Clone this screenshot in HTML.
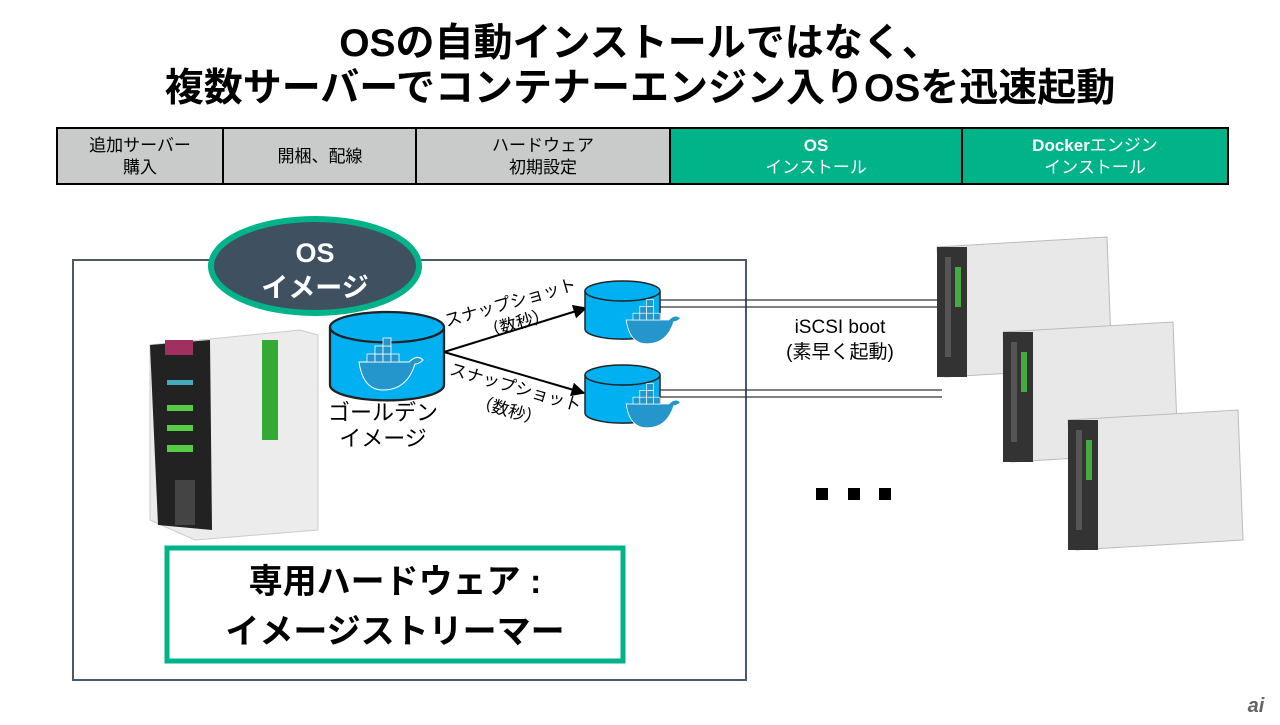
<!DOCTYPE html>
<html><head><meta charset="utf-8"><style>
body{margin:0;width:1280px;height:720px;background:#fff;overflow:hidden;font-family:"Liberation Sans","Noto Sans CJK JP",sans-serif}
svg text{font-family:"Liberation Sans","Noto Sans CJK JP",sans-serif}
</style></head><body>
<svg width="1280" height="720" viewBox="0 0 1280 720" xmlns="http://www.w3.org/2000/svg">
<defs><marker id="a" viewBox="0 0 10 10" refX="9" refY="5" markerWidth="7" markerHeight="7" orient="auto"><path d="M0,0L10,5L0,10z" fill="#000"/></marker>
<g id="cyl"><path d="M0,10 v38 a37,10 0 0 0 75,0 v-38" fill="#00b0f0" stroke="#222" stroke-width="1.5"/><ellipse cx="37.5" cy="10" rx="37.5" ry="10" fill="#00b0f0" stroke="#222" stroke-width="1.5"/></g>
<g id="whale"><path d="M-28,0 h50 q8,-8 14,-2 q-4,4 -8,4 q-8,26 -32,26 q-20,0 -24,-28z" fill="#2496cc" stroke="#fff" stroke-width="1"/><g fill="#2496cc" stroke="#fff" stroke-width="0.8"><rect x="-20" y="-8" width="8" height="8"/><rect x="-12" y="-8" width="8" height="8"/><rect x="-4" y="-8" width="8" height="8"/><rect x="4" y="-8" width="8" height="8"/><rect x="-12" y="-16" width="8" height="8"/><rect x="-4" y="-16" width="8" height="8"/><rect x="-4" y="-24" width="8" height="8"/></g></g>
<g id="srv"><path d="M0,10 L170,0 L175,130 L8,140z" fill="#e8e8e8" stroke="#bbb"/><rect x="0" y="10" width="30" height="130" fill="#333"/><rect x="8" y="20" width="6" height="100" fill="#555"/><rect x="18" y="30" width="6" height="40" fill="#4a4"/></g>
</defs>
<text x="640" y="56" text-anchor="middle" font-size="39" font-weight="bold">OSの自動インストールではなく、</text>
<text x="640" y="101" text-anchor="middle" font-size="39" font-weight="bold">複数サーバーでコンテナーエンジン入りOSを迅速起動</text>
<g stroke="#000" stroke-width="2">
<rect x="57" y="128" width="166" height="56" fill="#c9caca"/>
<rect x="223" y="128" width="193" height="56" fill="#c9caca"/>
<rect x="416" y="128" width="254" height="56" fill="#c9caca"/>
<rect x="670" y="128" width="292" height="56" fill="#00b388"/>
<rect x="962" y="128" width="266" height="56" fill="#00b388"/></g>
<g font-size="17" text-anchor="middle">
<text x="140" y="151">追加サーバー</text><text x="140" y="173">購入</text>
<text x="320" y="162">開梱、配線</text>
<text x="543" y="151">ハードウェア</text><text x="543" y="173">初期設定</text>
<g fill="#fff"><text x="816" y="151" font-weight="bold">OS</text><text x="816" y="173">インストール</text>
<text x="1095" y="151"><tspan font-weight="bold">Docker</tspan>エンジン</text><text x="1095" y="173">インストール</text></g></g>
<rect x="73" y="260" width="673" height="420" fill="none" stroke="#4a5a68" stroke-width="2"/>
<path d="M150,345 L300,330 L318,335 L318,530 L195,540 L150,520z" fill="#ececec" stroke="#ccc"/>
<path d="M150,345 L210,340 L212,530 L158,525z" fill="#222"/>
<rect x="165" y="340" width="28" height="15" fill="#a03060"/>
<rect x="167" y="380" width="26" height="5" fill="#4ab"/><rect x="167" y="405" width="26" height="6" fill="#5c4"/><rect x="167" y="425" width="26" height="6" fill="#5c4"/><rect x="167" y="445" width="26" height="7" fill="#5c4"/>
<rect x="262" y="340" width="16" height="100" fill="#3a3"/>
<rect x="175" y="480" width="20" height="45" fill="#444"/>
<ellipse cx="315" cy="266" rx="104" ry="47" fill="#3f5060" stroke="#00b388" stroke-width="6"/>
<text x="315" y="262" text-anchor="middle" font-size="27" font-weight="bold" fill="#fff">OS</text>
<text x="315" y="297" text-anchor="middle" font-size="27" font-weight="bold" fill="#fff">イメージ</text>
<g transform="translate(330,312) scale(1.52)"><use href="#cyl"/></g>
<g transform="translate(387,362)"><use href="#whale"/></g>
<text x="383" y="420" text-anchor="middle" font-size="22">ゴールデン</text>
<text x="383" y="446" text-anchor="middle" font-size="22">イメージ</text>
<line x1="444" y1="352" x2="586" y2="308" stroke="#000" stroke-width="2" marker-end="url(#a)"/>
<line x1="444" y1="352" x2="584" y2="393" stroke="#000" stroke-width="2" marker-end="url(#a)"/>
<text x="512" y="308" font-size="17" text-anchor="middle" transform="rotate(-16 512 308)">スナップショット</text>
<text x="518" y="329" font-size="17" text-anchor="middle" transform="rotate(-16 518 329)">（数秒）</text>
<text x="514" y="393" font-size="17" text-anchor="middle" transform="rotate(16 514 393)">スナップショット</text>
<text x="507" y="416" font-size="17" text-anchor="middle" transform="rotate(16 507 416)">（数秒）</text>
<use href="#cyl" x="585" y="281"/><use href="#cyl" x="585" y="365"/>
<g transform="translate(650,320) scale(0.85)"><use href="#whale"/></g>
<g transform="translate(650,404) scale(0.85)"><use href="#whale"/></g>
<g stroke="#333" stroke-width="1.3"><line x1="660" y1="300" x2="942" y2="300"/><line x1="660" y1="307" x2="942" y2="307"/><line x1="660" y1="390" x2="942" y2="390"/><line x1="660" y1="397" x2="942" y2="397"/></g>
<text x="840" y="333" text-anchor="middle" font-size="19">iSCSI boot</text>
<text x="840" y="358" text-anchor="middle" font-size="19">(素早く起動)</text>
<use href="#srv" x="937" y="237"/><use href="#srv" x="1003" y="322"/><use href="#srv" x="1068" y="410"/>
<g fill="#000"><rect x="816" y="488" width="12" height="12"/><rect x="848" y="488" width="12" height="12"/><rect x="879" y="488" width="12" height="12"/></g>
<rect x="167" y="548" width="456" height="113" fill="#fff" stroke="#00b388" stroke-width="5"/>
<text x="395" y="593" text-anchor="middle" font-size="34" font-weight="bold">専用ハードウェア :</text>
<text x="395" y="643" text-anchor="middle" font-size="34" font-weight="bold">イメージストリーマー</text>
<text x="1256" y="712" text-anchor="middle" font-size="20" font-style="italic" font-weight="bold" fill="#666">ai</text>
</svg>
</body></html>
